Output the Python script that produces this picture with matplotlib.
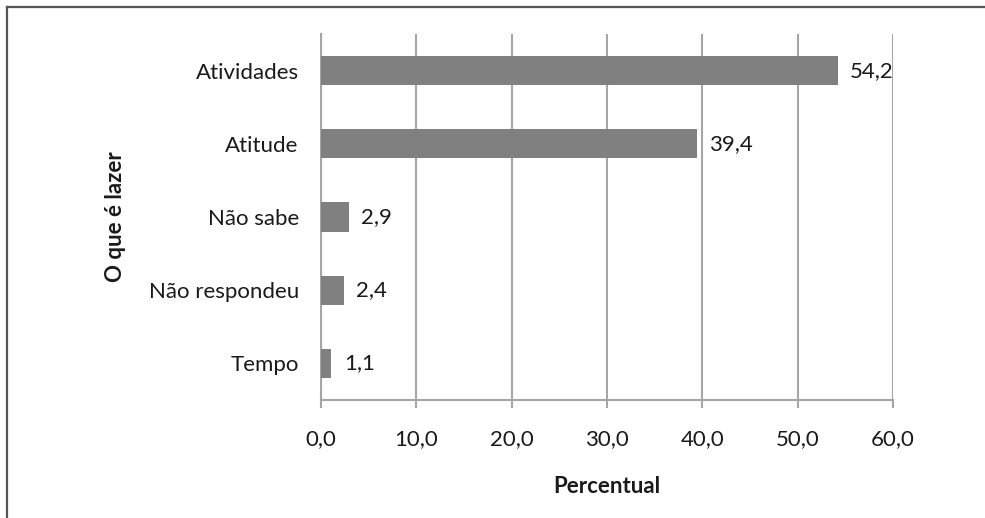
import matplotlib
matplotlib.use("Agg")
import matplotlib.pyplot as plt
from matplotlib.lines import Line2D

categorias = ["Tempo", "Não respondeu", "Não sabe", "Atitude", "Atividades"]
percentuais = [1.1, 2.4, 2.9, 39.4, 54.2]
ticks_x = [0, 10, 20, 30, 40, 50, 60]

plt.rcParams['font.family'] = ['Lato', 'DejaVu Sans']

cinza_barra = '#808080'
cinza_grade = '#a6a6a6'
cor_texto = '#1a1a1a'
tam = 16

fig = plt.figure(figsize=(9.85, 5.18), dpi=100)
ax = fig.add_axes([321 / 985, 118 / 518, 572 / 985, 366 / 518])

y = range(len(categorias))
ax.barh(y, percentuais, height=0.4, color=cinza_barra, zorder=3)

for yi, v in zip(y, percentuais):
    ax.annotate(f"{v:.1f}".replace('.', ','), (v, yi), xytext=(9, 0),
                textcoords='offset points', va='center', ha='left',
                fontsize=tam, color=cor_texto)

ax.set_xlim(0, 60)
ax.set_ylim(-0.5, len(categorias) - 0.5)
ax.set_xticks(ticks_x)
ax.set_xticklabels([f"{t:.1f}".replace('.', ',') for t in ticks_x])
ax.set_yticks(list(y))
ax.set_yticklabels(categorias)

ax.grid(axis='x', color=cinza_grade, linewidth=1.5, zorder=0)
for s in ['top', 'right']:
    ax.spines[s].set_visible(False)
for s in ['left', 'bottom']:
    ax.spines[s].set_color(cinza_grade)
    ax.spines[s].set_linewidth(1.5)

ax.tick_params(axis='x', length=6, width=1.5, color=cinza_grade, pad=15,
               labelsize=tam, labelcolor=cor_texto)
ax.tick_params(axis='y', length=0, pad=16, labelsize=tam, labelcolor=cor_texto)

ax.set_xlabel("Percentual", fontsize=tam, fontweight='bold', color=cor_texto, labelpad=19)
ax.set_ylabel("O que é lazer", fontsize=tam, fontweight='bold', color=cor_texto, labelpad=16)

# moldura (apenas esquerda e topo, como no recorte original)
fig.add_artist(Line2D([7 / 985, 7 / 985], [0, 1 - 7 / 518], transform=fig.transFigure,
                      color='#555555', linewidth=1.6))
fig.add_artist(Line2D([7 / 985, 1], [1 - 7 / 518, 1 - 7 / 518], transform=fig.transFigure,
                      color='#555555', linewidth=1.6))

fig.savefig("out.png", dpi=100)
